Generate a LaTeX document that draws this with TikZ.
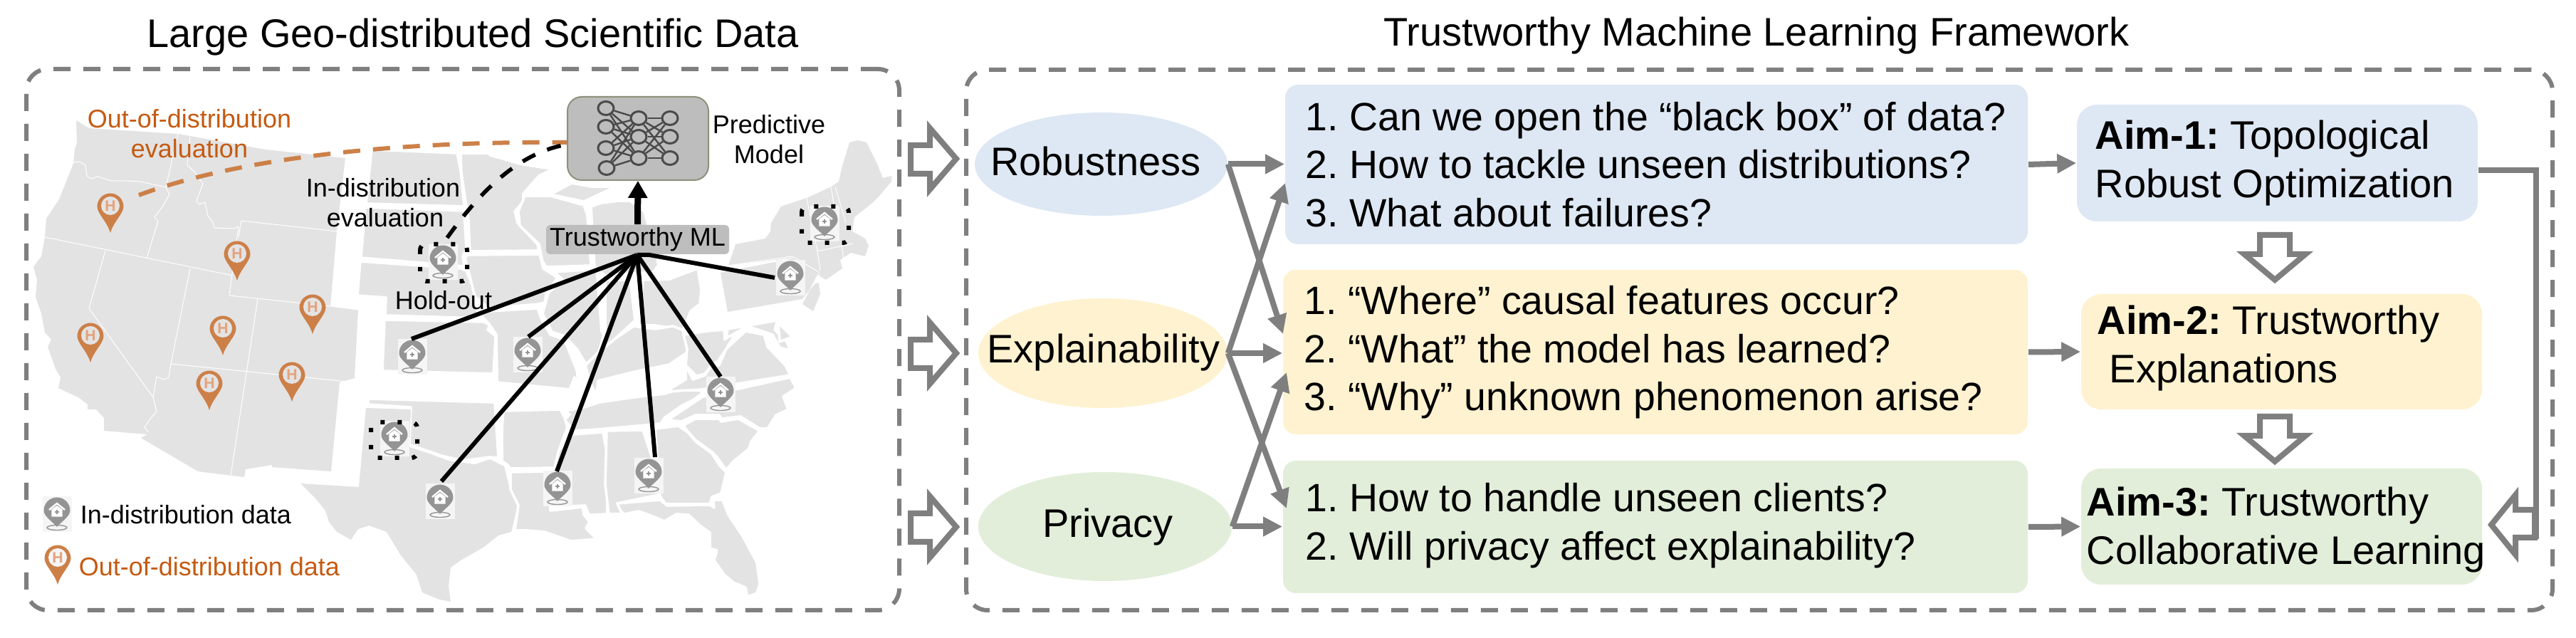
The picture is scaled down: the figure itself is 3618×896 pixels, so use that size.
\documentclass[tikz,border=0pt]{standalone}
\usepackage{fontspec}
\setmainfont{Liberation Sans}
\usetikzlibrary{arrows.meta,shapes.geometric,calc}
\frenchspacing
\definecolor{mapgray}{HTML}{E3E3E3}
\definecolor{framegray}{HTML}{7F7F7F}
\definecolor{pingray}{HTML}{949494}
\definecolor{pinbg}{HTML}{F5F5F5}
\definecolor{pinorange}{HTML}{CC8048}
\definecolor{hletter}{HTML}{E3A37C}
\definecolor{oodtext}{HTML}{C55A11}
\definecolor{blueF}{HTML}{DEE8F4}
\definecolor{yellowF}{HTML}{FFF2D0}
\definecolor{greenF}{HTML}{E2EED9}
\definecolor{boxgray}{HTML}{BDBDBD}
\definecolor{modeledge}{HTML}{8F8F7C}
\definecolor{netgray}{HTML}{4A4A4A}
\tikzset{
  st/.style={fill=mapgray,draw=white,line width=0.9pt,line join=round},
  thinst/.style={draw=white,line width=0.25pt,line join=round},
  frame/.style={draw=framegray,line width=1.5pt,dash pattern=on 6pt off 4.5pt,rounded corners=7.5pt,inner sep=0pt,fill=none},
  fsS/.style={font=\fontsize{9}{10.5}\selectfont,inner sep=0pt,align=center},
  fsL/.style={font=\fontsize{14}{16.85}\selectfont,inner sep=0pt,align=left},
  fsQ/.style={font=\fontsize{13.87}{16.85}\selectfont,inner sep=0pt,align=left},
  title/.style={font=\fontsize{14}{17}\selectfont,inner sep=0pt},
  qbox/.style={rounded corners=4.5pt,inner sep=0pt},
  aimbox/.style={rounded corners=7pt,inner sep=0pt},
  pillar/.style={ellipse,inner sep=0pt},
  link/.style={draw=framegray,line width=2pt,-{Triangle[length=6.75pt,width=6.5pt]}},
  hollow/.style={draw=framegray,line width=2pt,fill=white,line join=miter},
  hub/.style={draw=black,line width=1.5pt},
  dots/.style={draw=black,line width=1.5pt,dash pattern=on 1.5pt off 4.5pt,rounded corners=2pt},
  neuron/.style={ellipse,draw=netgray,line width=0.75pt,minimum width=5.5pt,minimum height=4.75pt,inner sep=0pt},
  syn/.style={draw=netgray,line width=0.6pt},
}
% name, x, y of the grey hospital pin (x,y = centre of its pale square)
\newcommand{\graypin}[3]{%
 \begin{scope}[shift={(#2,#3)}]
  \fill[pinbg] (-20.5,-25) rectangle (20.5,25);
  \draw[pingray,line width=0.35pt] (0,19) ellipse [x radius=14,y radius=3.5];
  \fill[pingray] (-18.5,-5) .. controls (-18.5,-15.2) and (-10.2,-23.5) .. (0,-23.5) .. controls (10.2,-23.5) and (18.5,-15.2) .. (18.5,-5) .. controls (18.5,3) and (7,10) .. (0,18) .. controls (-7,10) and (-18.5,3) .. (-18.5,-5) -- cycle;
  \fill[white] (-7.7,-6.5) -- (0,-12) -- (7.7,-6.5) -- (7.7,3.7) -- (-7.7,3.7) -- cycle;
  \draw[white,line width=0.6pt] (-11,-6) -- (0,-15) -- (11,-6);
  \draw[pingray,line width=0.35pt] (-2.7,-3) -- (2.7,-3) (0,-5.7) -- (0,-0.3);
  \coordinate (#1) at (0,-24);
 \end{scope}}
% name, x, y of the head centre of the orange pin, disc colour
\newcommand{\oodpin}[4]{%
 \begin{scope}[shift={(#2,#3)}]
  \fill[pinorange] (-18.5,0) .. controls (-18.5,-10.2) and (-10.2,-18.5) .. (0,-18.5) .. controls (10.2,-18.5) and (18.5,-10.2) .. (18.5,0) .. controls (18.5,10) and (4,22) .. (0,37) .. controls (-4,22) and (-18.5,10) .. (-18.5,0) -- cycle;
  \fill[#4] (0,-1) circle [radius=13];
  \node[inner sep=0pt,text=hletter,font=\fontsize{5.3}{6}\bfseries\selectfont] (#1) at (0,-1) {H};
 \end{scope}}
\begin{document}
\begin{tikzpicture}[x=0.25pt,y=-0.25pt]
\useasboundingbox (0,0) rectangle (3618,896);
% ---------- map: west (one block, thin state lines)
\path[fill=mapgray] plot coordinates {(107,169) (125,180) (250,188) (373,210) (485,222) (473,325) (464,430) (503,435) (498,531) (477,537) (465,662) (382,656) (382,653) (345,659) (343,670) (325,668) (278,662) (198,615) (207,610) (146,605) (146,587) (135,575) (123,575) (123,568) (110,558) (82,545) (85,530) (78,518) (67,487) (72,477) (63,467) (58,440) (50,417) (52,393) (47,375) (58,360) (63,333) (65,307) (83,280) (103,230) (105,210) (108,200)} -- cycle;
\path[thinst] plot coordinates {(103,228) (112,227) (120,232) (122,247) (128,251) (137,248) (157,254) (177,254) (197,255) (233,263) (238,273) (227,292) (217,305) (222,310) (206,363)};
\path[thinst] plot coordinates {(250,188) (233,263)};
\path[thinst] plot coordinates {(267,192) (263,232) (272,240) (285,258) (276,282) (280,287) (288,284) (292,303) (299,312) (301,320) (328,321) (335,318) (322,415) (464,430) (503,435)};
\path[thinst] plot coordinates {(473,325) (339,310) (335,333)};
\path[thinst] plot coordinates {(63,333) (327,387)};
\path[thinst] plot coordinates {(148,352) (125,433) (215,558) (220,578) (212,587) (203,600) (208,607)};
\path[thinst] plot coordinates {(267,377) (240,511) (237,530) (230,533) (220,529) (215,558)};
\path[thinst] plot coordinates {(240,511) (498,537)};
\path[thinst] plot coordinates {(362,420) (324,668)};
% ---------- map: central and east (states with broad white gaps)
\path[st] plot coordinates {(522,210) (642,215) (647,240) (652,290) (514,286)} -- cycle;
\path[st] plot coordinates {(513,291) (652,296) (655,350) (650,360) (652,374) (507,362)} -- cycle;
\path[st] plot coordinates {(506,367) (647,377) (655,380) (663,400) (673,447) (541,443) (542,418) (502,415)} -- cycle;
\path[st] plot coordinates {(540,449) (680,452) (688,457) (685,463) (696,472) (693,525) (537,521)} -- cycle;
\path[st] plot coordinates {(647,215) (685,215) (685,207) (688,218) (703,222) (730,230) (760,235) (777,237) (757,247) (735,272) (735,283) (723,297) (727,313) (755,343) (757,352) (660,353) (658,310) (648,243)} -- cycle;
\path[st] plot coordinates {(657,358) (758,357) (763,377) (783,390) (767,413) (765,425) (757,427) (687,433) (667,417) (658,380) (653,362)} -- cycle;
\path[st] plot coordinates {(737,275) (773,275) (820,288) (825,303) (830,373) (767,375) (762,367) (757,343) (730,317) (728,297)} -- cycle;
\path[st] plot coordinates {(688,437) (755,433) (760,447) (773,470) (793,477) (810,520) (813,540) (807,530) (800,547) (698,537) (698,520) (697,470) (687,455) (675,442)} -- cycle;
\path[st] plot coordinates {(778,382) (838,378) (845,465) (848,470) (838,505) (822,510) (810,490) (793,472) (775,466) (762,440) (765,430) (770,412) (790,392)} -- cycle;
\path[st] plot coordinates {(850,393) (885,393) (892,450) (870,470) (850,490)} -- cycle;
\path[st] plot coordinates {(773,273) (803,257) (830,262) (865,262) (820,283)} -- cycle;
\path[st] plot coordinates {(830,290) (845,285) (870,282) (885,282) (905,297) (910,315) (925,372) (918,382) (905,383) (850,387) (835,375)} -- cycle;
\path[st] plot coordinates {(903,393) (940,392) (980,377) (985,407) (983,427) (970,437) (960,463) (920,457) (897,457)} -- cycle;
\path[st] plot coordinates {(838,555) (840,535) (887,523) (940,512) (965,495) (967,480) (958,463) (945,458) (920,462) (890,458) (865,475) (840,495) (822,513) (830,540)} -- cycle;
\path[st] plot coordinates {(820,572) (842,565) (890,558) (933,553) (950,548) (983,548) (987,552) (973,562) (957,570) (933,587) (928,595) (840,603) (807,605) (793,590) (800,582) (793,577)} -- cycle;
\path[st] plot coordinates {(707,577) (787,575) (793,587) (797,600) (787,627) (780,657) (717,658) (712,652) (705,648) (705,600)} -- cycle;
\path[st] plot coordinates {(517,560) (695,565) (700,643) (688,642) (650,647) (620,640) (583,627) (575,625) (577,572) (517,568)} -- cycle;
\path[fill=mapgray] plot coordinates {(422,679) (504,684) (514,573) (577,575) (575,628) (603,637) (630,647) (667,652) (688,645) (708,655) (715,683) (727,710) (723,727) (718,747) (700,752) (680,768) (647,787) (633,797) (630,823) (633,845) (617,842) (593,832) (585,807) (563,780) (543,747) (518,738) (503,743) (493,758) (473,747) (462,733) (457,717) (443,700)} -- cycle;
\path[st] plot coordinates {(717,663) (773,662) (773,717) (818,712) (820,723) (828,733) (823,742) (838,757) (802,760) (765,747) (740,745) (723,745) (728,710) (717,687)} -- cycle;
\path[st] plot coordinates {(805,610) (847,607) (853,640) (853,722) (827,723) (822,710) (778,712) (778,660) (785,632)} -- cycle;
\path[st] plot coordinates {(852,605) (903,604) (918,650) (925,695) (867,707) (875,722) (855,722) (850,680)} -- cycle;
\path[st] plot coordinates {(920,602) (953,598) (967,608) (977,620) (1000,637) (1010,653) (1020,663) (1013,693) (1000,698) (997,708) (935,708) (927,697)} -- cycle;
\path[st] plot coordinates {(960,597) (977,588) (1010,588) (1013,592) (1037,588) (1067,605) (1055,620) (1052,630) (1030,648) (1020,660) (1007,642) (1000,635) (977,618) (965,605)} -- cycle;
\path[st] plot coordinates {(938,590) (957,577) (987,557) (1110,530) (1118,545) (1100,557) (1107,575) (1090,583) (1078,602) (1067,602) (1040,585) (1013,588) (1010,583) (977,583) (957,592)} -- cycle;
\path[st] plot coordinates {(935,550) (963,533) (963,513) (973,533) (990,527) (1000,513) (1010,513) (1020,490) (1047,465) (1073,470) (1078,487) (1103,513) (1110,527) (985,547)} -- cycle;
\path[st] plot coordinates {(993,465) (1017,463) (1018,477) (1040,457) (1020,490) (1008,508) (1000,512) (990,525) (978,528) (963,513) (965,490) (960,470)} -- cycle;
\path[st] plot coordinates {(1022,462) (1092,450) (1088,463) (1105,480) (1110,492) (1095,488) (1085,470) (1050,458) (1020,475)} -- cycle;
\path[st] plot coordinates {(1093,453) (1113,473) (1095,480)} -- cycle;
\path[st] plot coordinates {(867,707) (927,702) (937,710) (997,709) (1003,713) (1002,702) (1015,702) (1023,723) (1043,753) (1063,790) (1067,820) (1063,833) (1050,838) (1047,825) (1030,818) (1017,807) (1003,787) (1007,773) (997,770) (997,748) (983,738) (967,723) (950,722) (933,732) (917,725) (897,718) (877,722) (872,718)} -- cycle;
\path[fill=mapgray] plot coordinates {(1012,383) (1113,363) (1150,382) (1137,407) (1127,420) (1022,438)} -- cycle;
\path[fill=mapgray] plot coordinates {(1150,397) (1152,413) (1142,437) (1127,427) (1137,408) (1145,398)} -- cycle;
\path[fill=mapgray] plot coordinates {(1023,373) (1033,343) (1075,335) (1082,325) (1083,313) (1097,290) (1133,278) (1168,262) (1178,255) (1183,233) (1193,200) (1205,197) (1217,200) (1232,230) (1240,250) (1252,247) (1252,255) (1235,275) (1225,285) (1200,305) (1197,325) (1215,335) (1220,345) (1215,360) (1195,355) (1180,365) (1183,377) (1160,393) (1150,387) (1113,362)} -- cycle;
\path[thinst] plot coordinates {(1023,373) (1113,360) (1150,382) (1150,395)};
\path[thinst] plot coordinates {(1133,278) (1148,353) (1152,380)};
\path[thinst] plot coordinates {(1148,353) (1198,342)};
\path[thinst] plot coordinates {(1182,345) (1185,363)};
\path[thinst] plot coordinates {(1167,263) (1172,290)};
\path[thinst] plot coordinates {(1173,262) (1188,313)};
% ---------- frames and titles
\node[title] (titleL) at (664,52) {Large Geo-distributed Scientific Data};
\node[title] (titleR) at (2467,50) {Trustworthy Machine Learning Framework};
\node[frame,minimum width=306.5pt,minimum height=190pt] (frameL) at (650,477) {};
\node[frame,minimum width=557pt,minimum height=189.75pt] (frameR) at (2471,477.5) {};
% ---------- pins
\oodpin{oa}{155}{290}{mapgray}
\oodpin{ob}{333}{357}{mapgray}
\oodpin{oc}{127}{472}{mapgray}
\oodpin{od}{313}{462}{mapgray}
\oodpin{oe}{439}{432}{mapgray}
\oodpin{of}{294}{539}{mapgray}
\oodpin{og}{410}{527}{mapgray}
\oodpin{ol}{81}{784}{pinbg}
\graypin{pHold}{622}{368}
\graypin{pKS}{579}{501}
\graypin{pMO}{741}{498}
\graypin{pTXd}{554}{616}
\graypin{pTX}{618}{704}
\graypin{pLA}{783}{686}
\graypin{pAL}{911}{668}
\graypin{pNC}{1012}{554}
\graypin{pPA}{1110}{390}
\graypin{pNH}{1158}{314}
\graypin{pLeg}{80}{722}
\draw[dots] (590,343) rectangle (656,395);
\draw[dots] (1126,290) rectangle (1192,341);
\draw[dots] (521,593) rectangle (586,643);
% ---------- predictive model
\node[draw=modeledge,fill=boxgray,line width=0.5pt,rounded corners=5pt,minimum width=49.5pt,minimum height=29.25pt,inner sep=0pt] (model) at (896,194.5) {};
\foreach \n/\x/\y in {a1/851/152,a2/851/178,a3/851/208,a4/852/236,b1/897/166,b2/897/192,b3/897/222,c1/941/166,c2/941/192,c3/941/222}
  \node[neuron] (\n) at (\x,\y) {};
\foreach \s in {a1,a2,a3,a4} \foreach \t in {b1,b2,b3} \draw[syn] (\s) -- (\t);
\foreach \s in {b1,b2,b3} \foreach \t in {c1,c2,c3} \draw[syn] (\s) -- (\t);
% ---------- trustworthy ML
\node[fill=boxgray,rounded corners=1.5pt,minimum width=64.25pt,minimum height=10.25pt,inner sep=0pt,font=\fontsize{9}{10.5}\selectfont] (tml) at (895.5,336.5) {Trustworthy ML};
\coordinate (hub) at (895,358);
\coordinate (hubR) at (912,358);
\draw[line width=2.25pt,-{Triangle[length=6pt,width=6.5pt]}] (tml.north) -- (model.south);
\draw[hub] (hub) -- ($(pKS)+(-1,-1)$);
\draw[hub] (hub) -- ($(pMO)+(1,-1)$);
\draw[hub] (hub) -- ($(pTX)+(2,-4)$);
\draw[hub] (hub) -- ($(pLA)+(-1,0)$);
\draw[hub] (hub) -- ($(pAL)+(9,-2)$);
\draw[hub] (hub) -- ($(pNC)+(0,-1)$);
\draw[hub] (hub) -- (hubR) -- ($(pPA)+(-22,24)$);
% ---------- evaluation curves
\draw[draw=pinorange,line width=1.5pt,dash pattern=on 6pt off 4.5pt] (195,274) .. controls (320,228) and (520,198) .. (model.west |- 0,200);
\draw[line width=1.4pt,dash pattern=on 5pt off 4.5pt] ($(pHold)+(6,-10)$) .. controls (670,275) and (725,215) .. (model.west |- 0,203);
% ---------- map texts
\node[fsS,text=oodtext] (oodeval) at (266,188) {Out-of-distribution\\evaluation};
\node[fsS] (ideval) at (538,284.5) {In-distribution\\\,evaluation};
\node[fsS] (holdout) at (623,422) {Hold-out};
\node[fsS] (pred) at (1080,196) {Predictive\\Model};
\node[fsS,anchor=west] (legA) at (112,723) {In-distribution data};
\node[fsS,anchor=west,text=oodtext] (legB) at (110,796) {Out-of-distribution data};
% ---------- hollow arrows from data to framework
\foreach \cy in {223,496,740}
  \draw[hollow] (1279,\cy-19) -- (1306,\cy-19) -- (1306,\cy-43) -- (1343,\cy) -- (1306,\cy+43) -- (1306,\cy+21) -- (1279,\cy+21) -- cycle;
% ---------- pillars
\node[pillar,fill=blueF,minimum width=88.75pt,minimum height=36.25pt] (rob) at (1546.5,230.5) {};
\node[pillar,fill=yellowF,minimum width=87.5pt,minimum height=38.5pt] (exp) at (1549,496) {};
\node[pillar,fill=greenF,minimum width=89pt,minimum height=38.25pt] (pri) at (1552,739.5) {};
\node[fsL] (robT) at (1539,226) {Robustness};
\node[fsL] (expT) at (1550,495) {Explainability};
\node[fsL] (priT) at (1556,740) {Privacy};
% ---------- question boxes
\node[qbox,fill=blueF,minimum width=260.75pt,minimum height=56pt] (qb) at (2326.5,231) {};
\node[qbox,fill=yellowF,minimum width=261.5pt,minimum height=57.75pt] (qy) at (2325,494.5) {};
\node[qbox,fill=greenF,minimum width=261.5pt,minimum height=46.5pt] (qg) at (2325,740) {};
\node[fsQ,anchor=west] (qbT) at (1833,231) {1. Can we open the “black box” of data?\\2. How to tackle unseen distributions?\\3. What about failures?};
\node[fsQ,anchor=west] (qyT) at (1831,495) {1. “Where” causal features occur?\\2. “What” the model has learned?\\3. “Why” unknown phenomenon arise?};
\node[fsQ,anchor=west] (qgT) at (1833,738) {1. How to handle unseen clients?\\2. Will privacy affect explainability?};
% ---------- aim boxes
\node[aimbox,fill=blueF,minimum width=140.75pt,minimum height=41pt] (aim1) at (3198.5,229) {};
\node[aimbox,fill=yellowF,minimum width=140.75pt,minimum height=40.5pt] (aim2) at (3204.5,494) {};
\node[aimbox,fill=greenF,minimum width=140.75pt,minimum height=40.75pt] (aim3) at (3204.5,739.5) {};
\node[fsL,anchor=west] (aim1T) at (2942,229) {\textbf{Aim-1:} Topological\\Robust Optimization};
\node[fsL,anchor=west] (aim2T) at (2945,489) {\textbf{Aim-2:} Trustworthy\\\hspace*{4.25pt}Explanations};
\node[fsL,anchor=west] (aim3T) at (2930,744) {\textbf{Aim-3:} Trustworthy\\Collaborative Learning};
% ---------- connectors
\coordinate (qyA) at (1802,469);
\coordinate (qbB) at (1805,257);
\coordinate (qgA) at (1807,714);
\coordinate (qyB) at (1807,523);
\draw[link] (rob.east) -- (qb.west |- rob.east);
\draw[link] (exp.east) -- (qy.west |- exp.east);
\draw[link] (pri.east) -- (qg.west |- pri.east);
\draw[link] (rob.east) -- (qyA);
\draw[link] (exp.east) -- (qbB);
\draw[link] (exp.east) -- (qgA);
\draw[link] (pri.east) -- (qyB);
\draw[link] (qb.east) -- (aim1.west);
\draw[link] (qy.east) -- (aim2.west);
\draw[link] (qg.east) -- (aim3.west);
% ---------- aim arrows
\foreach \ty in {330,585}
  \draw[hollow] (3174,\ty) -- (3216,\ty) -- (3216,\ty+27) -- (3238,\ty+27) -- (3195,\ty+63) -- (3152,\ty+27) -- (3174,\ty+27) -- cycle;
\draw[hollow] (3560,716) -- (3533,716) -- (3533,695) -- (3499,737) -- (3533,779) -- (3533,755) -- (3560,755) -- cycle;
\coordinate (turn) at (3562,239);
\coordinate (aimIn) at (3562,757);
\draw[draw=framegray,line width=2pt,line join=miter] (aim1.east |- turn) -- (turn) -- (aimIn);
\end{tikzpicture}
\end{document}
